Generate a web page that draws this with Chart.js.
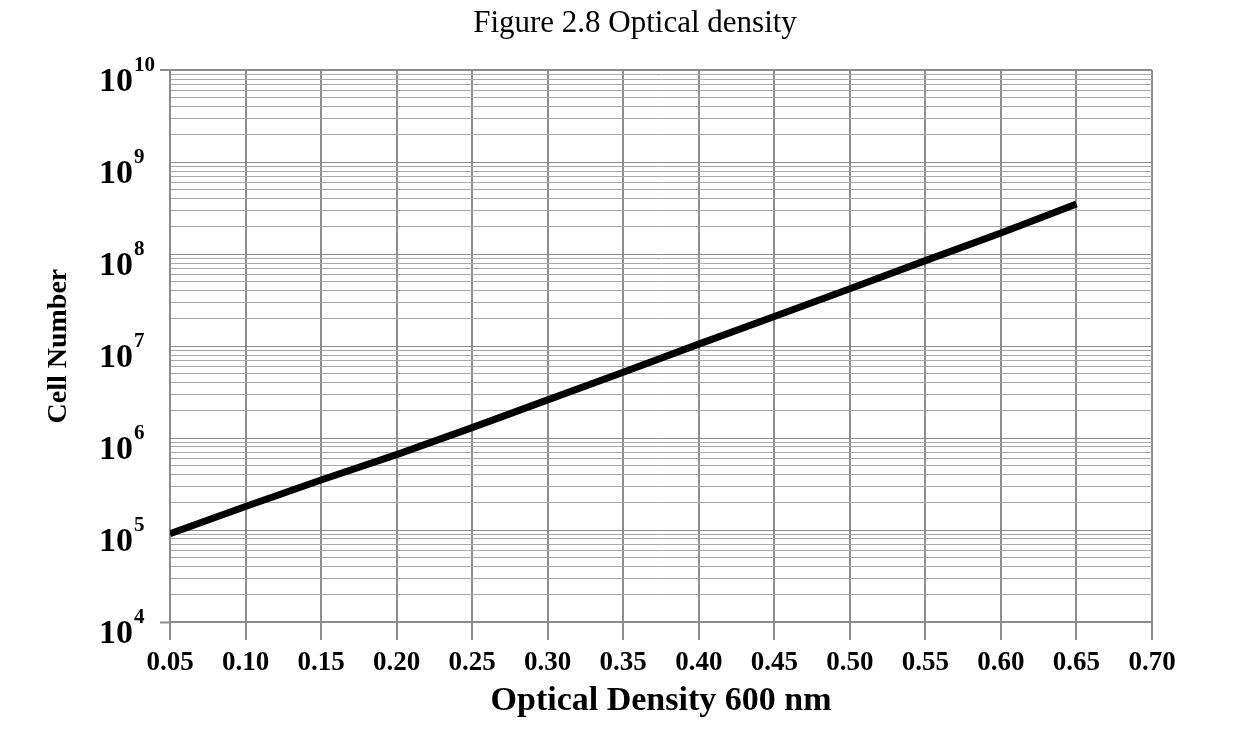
<!DOCTYPE html>
<html>
<head>
<meta charset="utf-8">
<script src="https://cdn.jsdelivr.net/npm/chart.js@4.4.1/dist/chart.umd.min.js"></script>
<style>
html,body{margin:0;padding:0;background:#fff;}
#wrap{width:1250px;height:734px;position:relative;}
</style>
</head>
<body>
<div id="wrap"><canvas id="c"></canvas></div>
<script>
// ---- data ----
const chartTitle = 'Figure 2.8 Optical density';
const xAxisTitle = 'Optical Density 600 nm';
const yAxisTitle = 'Cell Number';

const odValues    = [0.05, 0.10, 0.15, 0.20, 0.25, 0.30, 0.35, 0.40, 0.45, 0.50, 0.55, 0.60, 0.65];
const cellNumbers = [9.1e4, 1.8e5, 3.5e5, 6.6e5, 1.3e6, 2.6e6, 5.2e6, 1.05e7, 2.1e7, 4.2e7, 8.5e7, 1.7e8, 3.5e8];

const xTickValues = [0.05, 0.10, 0.15, 0.20, 0.25, 0.30, 0.35, 0.40, 0.45, 0.50, 0.55, 0.60, 0.65, 0.70];
const xTickLabels = ['0.05','0.10','0.15','0.20','0.25','0.30','0.35','0.40','0.45','0.50','0.55','0.60','0.65','0.70'];

const yDecadeExponents  = [4, 5, 6, 7, 8, 9, 10];
const yMinorMultipliers = [2, 3, 4, 5, 6, 7, 8, 9];

// ---- derived tick list for the log axis ----
const yTickValues = [];
yDecadeExponents.forEach((e, i) => {
  const base = Math.pow(10, e);
  yTickValues.push(base);
  if (i < yDecadeExponents.length - 1) {
    yMinorMultipliers.forEach(m => yTickValues.push(m * base));
  }
});
const yMin = Math.pow(10, yDecadeExponents[0]);
const yMax = Math.pow(10, yDecadeExponents[yDecadeExponents.length - 1]);
const isDecade = v => Math.abs(Math.log10(v) - Math.round(Math.log10(v))) < 1e-9;

const FONT = '"Liberation Serif", "Times New Roman", serif';
const GRID_DARK = '#8c8c8c';
const GRID_LIGHT = '#a8a8a8';

// draws "10" with a superscript exponent at each decade of the y scale
const yDecadeLabels = {
  id: 'yDecadeLabels',
  afterDraw(chart) {
    const s = chart.scales.y;
    const ctx = chart.ctx;
    ctx.save();
    ctx.fillStyle = '#000';
    yDecadeExponents.forEach(e => {
      const py = s.getPixelForValue(Math.pow(10, e));
      ctx.font = 'bold 34px ' + FONT;
      ctx.textAlign = 'right';
      ctx.textBaseline = 'alphabetic';
      ctx.fillText('10', s.right - 37, py + 21);
      ctx.font = 'bold 21px ' + FONT;
      ctx.textAlign = 'left';
      ctx.fillText(String(e), s.right - 36, py + 1);
    });
    ctx.restore();
  }
};

new Chart(document.getElementById('c'), {
  type: 'line',
  data: {
    datasets: [{
      data: odValues.map((x, i) => ({ x: x, y: cellNumbers[i] })),
      borderColor: '#000',
      borderWidth: 7,
      pointRadius: 0,
      tension: 0,
      fill: false,
      xAxisID: 'x',
      yAxisID: 'y'
    }]
  },
  options: {
    responsive: true,
    maintainAspectRatio: false,
    animation: false,
    layout: { padding: { left: 20, right: 0, top: 0, bottom: 0 } },
    plugins: {
      legend: { display: false },
      tooltip: { enabled: false },
      title: {
        display: true,
        text: chartTitle,
        color: '#000',
        font: { family: FONT, size: 31, weight: 'normal' },
        padding: { top: 5, bottom: 28 }
      }
    },
    scales: {
      x: {
        type: 'linear',
        position: 'bottom',
        min: xTickValues[0],
        max: xTickValues[xTickValues.length - 1],
        afterBuildTicks(scale) { scale.ticks = xTickValues.map(v => ({ value: v })); },
        afterFit(scale) { scale.height = 112; },
        ticks: {
          color: '#000',
          font: { family: FONT, size: 27, weight: 'bold' },
          padding: 7,
          maxRotation: 0,
          autoSkip: false,
          callback: (v, i) => xTickLabels[i]
        },
        grid: { color: GRID_DARK, lineWidth: 2, tickLength: 18, tickColor: GRID_DARK, tickWidth: 2 },
        border: { color: GRID_DARK, width: 2 },
        title: {
          display: true,
          text: xAxisTitle,
          color: '#000',
          font: { family: FONT, size: 34, weight: 'bold' },
          padding: { top: 0, bottom: 12 }
        }
      },
      y: {
        type: 'logarithmic',
        position: 'left',
        min: yMin,
        max: yMax,
        afterBuildTicks(scale) { scale.ticks = yTickValues.map(v => ({ value: v, major: isDecade(v) })); },
        afterFit(scale) { scale.width = 150; },
        ticks: {
          autoSkip: false,
          font: { size: 1 },
          padding: 0,
          callback: () => ''
        },
        grid: {
          color: ctx => (ctx.tick && isDecade(ctx.tick.value)) ? GRID_DARK : GRID_LIGHT,
          lineWidth: ctx => (ctx.tick && (ctx.tick.value === yMax)) ? 2 : 1,
          tickLength: 10,
          tickWidth: 2,
          tickColor: ctx => (ctx.tick && (ctx.tick.value === yMin || ctx.tick.value === yMax)) ? GRID_DARK : 'rgba(0,0,0,0)'
        },
        border: { color: GRID_DARK, width: 2 },
        title: {
          display: true,
          text: yAxisTitle,
          color: '#000',
          font: { family: FONT, size: 28, weight: 'bold' },
          padding: { top: 22, bottom: 0 }
        }
      },
      yRight: {
        type: 'linear',
        position: 'right',
        display: true,
        grid: { display: false, drawTicks: false },
        ticks: { display: false },
        border: { display: false },
        afterFit(scale) { scale.width = 98; }
      }
    }
  },
  plugins: [yDecadeLabels]
});
</script>
</body>
</html>
